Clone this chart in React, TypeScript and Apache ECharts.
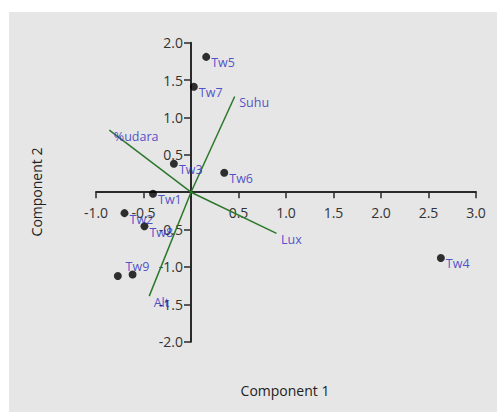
import React, { useEffect, useRef } from "react";
import * as echarts from "echarts";

const pointNames = ["Tw1", "Tw2", "Tw3", "Tw4", "Tw5", "Tw6", "Tw7", "Tw8", "Tw9", "Tw10"];
const comp1 = [-0.4, -0.7, -0.18, 2.63, 0.16, 0.35, 0.03, -0.49, -0.615, -0.77];
const comp2 = [-0.02, -0.28, 0.38, -0.88, 1.81, 0.26, 1.41, -0.455, -1.1, -1.12];

const varNames = ["Suhu", "%udara", "Lux", "Alt"];
const varX = [0.46, -0.86, 0.9, -0.44];
const varY = [1.28, 0.83, -0.55, -1.39];

const xTicks = { min: -1, max: 3, interval: 0.5 };
const yTicks = { min: -2, max: 2, interval: 0.5 };

const FONT = "'Open Sans', 'Noto Sans', sans-serif";
const LABEL_BLUE = "#2828c0";
const LINE_GREEN = "#2b782b";
const AXIS = "#2a2a2a";

export default function App() {
  const ref = useRef<HTMLDivElement>(null);
  useEffect(() => {
    if (!ref.current) return;
    const chart = echarts.init(ref.current, null, { renderer: "svg" });
    const fmt = (v: number) => (Math.abs(v) < 1e-9 ? "" : v.toFixed(1));

    const pointData = pointNames.map((n, i) => {
      const d: any = { name: n, value: [comp1[i], comp2[i]] };
      if (n === "Tw9") d.label = { offset: [-12, -8] };
      if (n === "Tw10") d.label = { show: false };
      return d;
    });

    const vecSeries = varNames.map((n, i) => ({
      type: "line",
      name: n,
      data: [
        [0, 0],
        [varX[i], varY[i]],
      ],
      showSymbol: false,
      symbol: "none",
      lineStyle: { color: LINE_GREEN, width: 1.5 },
      z: 3,
      silent: true,
    }));

    const W = 497;
    const H = 412;
    const gridLeft = 96;
    const gridRight = 21;
    const gridTop = 42.7;
    const gridBottom = 70.3;
    const plotW = W - gridLeft - gridRight;
    const plotH = H - gridTop - gridBottom;
    const yAxisShift = (plotW * (0 - xTicks.min)) / (xTicks.max - xTicks.min);
    const xAxisShift = (plotH * (0 - yTicks.min)) / (yTicks.max - yTicks.min);

    chart.setOption({
      animation: false,
      backgroundColor: "#ffffff",
      graphic: [
        {
          type: "rect",
          shape: { x: 9, y: 12, width: 488, height: 400 },
          style: { fill: "#e6e6e6" },
          z: -10,
          silent: true,
        },
        {
          type: "text",
          x: 285,
          y: 390,
          style: {
            text: "Component 1",
            fill: "#222",
            font: `14px ${FONT}`,
            textAlign: "center",
            textVerticalAlign: "middle",
          },
        },
        {
          type: "text",
          x: 36,
          y: 192,
          rotation: Math.PI / 2,
          style: {
            text: "Component 2",
            fill: "#222",
            font: `14px ${FONT}`,
            textAlign: "center",
            textVerticalAlign: "middle",
          },
        },
      ],
      grid: { left: gridLeft, right: gridRight, top: gridTop, bottom: gridBottom, containLabel: false },
      xAxis: {
        type: "value",
        position: "bottom",
        offset: -xAxisShift,
        min: xTicks.min,
        max: xTicks.max,
        interval: xTicks.interval,
        splitLine: { show: false },
        axisLine: { show: true, onZero: false, lineStyle: { color: AXIS, width: 2 } },
        axisTick: { show: true, length: 6, lineStyle: { color: AXIS, width: 1.5 } },
        axisLabel: {
          formatter: fmt,
          color: "#333",
          fontFamily: FONT,
          fontSize: 14,
          margin: 13,
        },
      },
      yAxis: {
        type: "value",
        position: "left",
        offset: -yAxisShift,
        min: yTicks.min,
        max: yTicks.max,
        interval: yTicks.interval,
        splitLine: { show: false },
        axisLine: { show: true, onZero: false, lineStyle: { color: AXIS, width: 2 } },
        axisTick: { show: true, length: 7, lineStyle: { color: AXIS, width: 1.5 } },
        axisLabel: {
          formatter: fmt,
          color: "#333",
          fontFamily: FONT,
          fontSize: 14,
          margin: 8,
        },
      },
      series: [
        ...vecSeries,
        {
          type: "scatter",
          name: "vars",
          data: varNames.map((n, i) => ({ name: n, value: [varX[i], varY[i]] })),
          symbolSize: 1,
          itemStyle: { color: "rgba(0,0,0,0)" },
          label: {
            show: true,
            position: "right",
            distance: 4,
            offset: [0, 6],
            formatter: "{b}",
            color: LABEL_BLUE,
            fontFamily: FONT,
            fontSize: 12.5,
          },
          z: 5,
          silent: true,
        },
        {
          type: "scatter",
          name: "points",
          data: pointData,
          symbolSize: 8,
          itemStyle: { color: "#000" },
          label: {
            show: true,
            position: "right",
            distance: 1,
            offset: [0, 6],
            formatter: "{b}",
            color: LABEL_BLUE,
            fontFamily: FONT,
            fontSize: 12.5,
          },
          z: 6,
          silent: true,
        },
      ],
    });
    return () => chart.dispose();
  }, []);
  return (
    <div
      ref={ref}
      style={{ position: "fixed", left: 0, top: 0, width: 497, height: 412 }}
    />
  );
}
